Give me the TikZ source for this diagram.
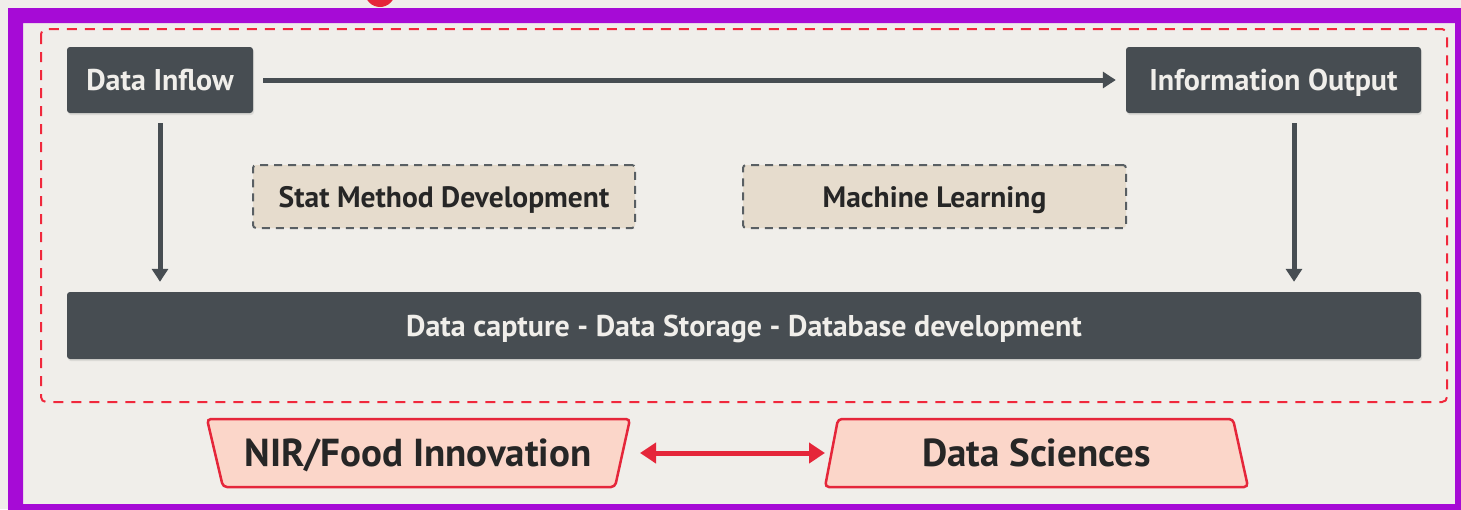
\documentclass[tikz,border=0pt]{standalone}
\usepackage{fontspec}
\setmainfont{PT Sans}
\usetikzlibrary{arrows.meta,shadows}
\definecolor{bg}{HTML}{F0EEEA}
\definecolor{frame}{HTML}{A60BD6}
\definecolor{reddash}{HTML}{F0283C}
\definecolor{darkbox}{HTML}{474D52}
\definecolor{beige}{HTML}{E6DCCD}
\definecolor{pinkfill}{HTML}{FBD6C9}
\definecolor{redline}{HTML}{E5263A}
\definecolor{textdark}{HTML}{262626}
\tikzset{
  darkbox/.style={fill=darkbox, rounded corners=3, text=bg, font=\bfseries\fontsize{30}{34}\selectfont,
    text height=21pt, text depth=0pt, inner sep=0pt,
    drop shadow={opacity=0.18, shadow xshift=1pt, shadow yshift=-2pt}},
  dashbox/.style={fill=beige, draw=darkbox!90, line width=2, dash pattern=on 8 off 6, rounded corners=3,
    text height=21pt, text depth=0pt, inner sep=0pt,
    text=textdark, font=\bfseries\fontsize{29.5}{34}\selectfont},
  trap/.style={fill=pinkfill, draw=redline, line width=2.5, rounded corners=4},
  traptext/.style={text=textdark, font=\bfseries\fontsize{39}{44}\selectfont, text height=27pt, text depth=0pt, inner sep=0pt},
  darkarrow/.style={draw=darkbox, line width=5, -{Triangle[width=16,length=13]}},
  redarrow/.style={draw=redline, line width=5, {Triangle[width=20,length=16]}-{Triangle[width=20,length=16]}},
}
\begin{document}
\begin{tikzpicture}[x=1pt,y=-1pt]
\useasboundingbox (0,0) rectangle (1461,509);
\fill[bg] (0,0) rectangle (1461,509);
% red blob at top edge
\fill[redline] (380,-8) circle (15);
% purple frame
\fill[frame, even odd rule] (8,8) rectangle (1475,520) (23,23) rectangle (1455,504);
% red dashed container
\draw[reddash, line width=2, dash pattern=on 10 off 8, rounded corners=5] (41,29) rectangle (1447,402);
% nodes
\node[darkbox, minimum width=186, minimum height=66] (in) at (160,80) {Data Inflow};
\node[darkbox, minimum width=295, minimum height=66] (out) at (1273.5,80) {Information Output};
\node[darkbox, minimum width=1354, minimum height=67] (bar) at (744,325.5) {Data capture - Data Storage - Database development};
\node[dashbox, minimum width=382, minimum height=63] (stat) at (444,196.5) {Stat Method Development};
\node[dashbox, minimum width=383, minimum height=63] (ml) at (934.5,196.5) {Machine Learning};
% connectors
\draw[darkarrow, shorten <=10pt, shorten >=10pt] (in.east) -- (out.west);
\draw[darkarrow, shorten <=10pt, shorten >=10pt] (in.south) -- (in.south |- bar.north);
\draw[darkarrow, shorten <=10pt, shorten >=10pt] ([xshift=20.5pt]out.south) -- ([xshift=20.5pt]out.south |- bar.north);
% trapezoids
\draw[trap] (207,419) -- (630,419) -- (615,487) -- (223,487) -- cycle;
\node[traptext] (nir) at (418,453) {NIR/Food Innovation};
\draw[trap] (838,419) -- (1233,419) -- (1248,487) -- (825,487) -- cycle;
\node[traptext] (ds) at (1036.5,453) {Data Sciences};
\coordinate (nirR) at (640,453);
\coordinate (dsL) at (825,453);
\draw[redarrow] (nirR) -- (dsL);
\end{tikzpicture}
\end{document}
